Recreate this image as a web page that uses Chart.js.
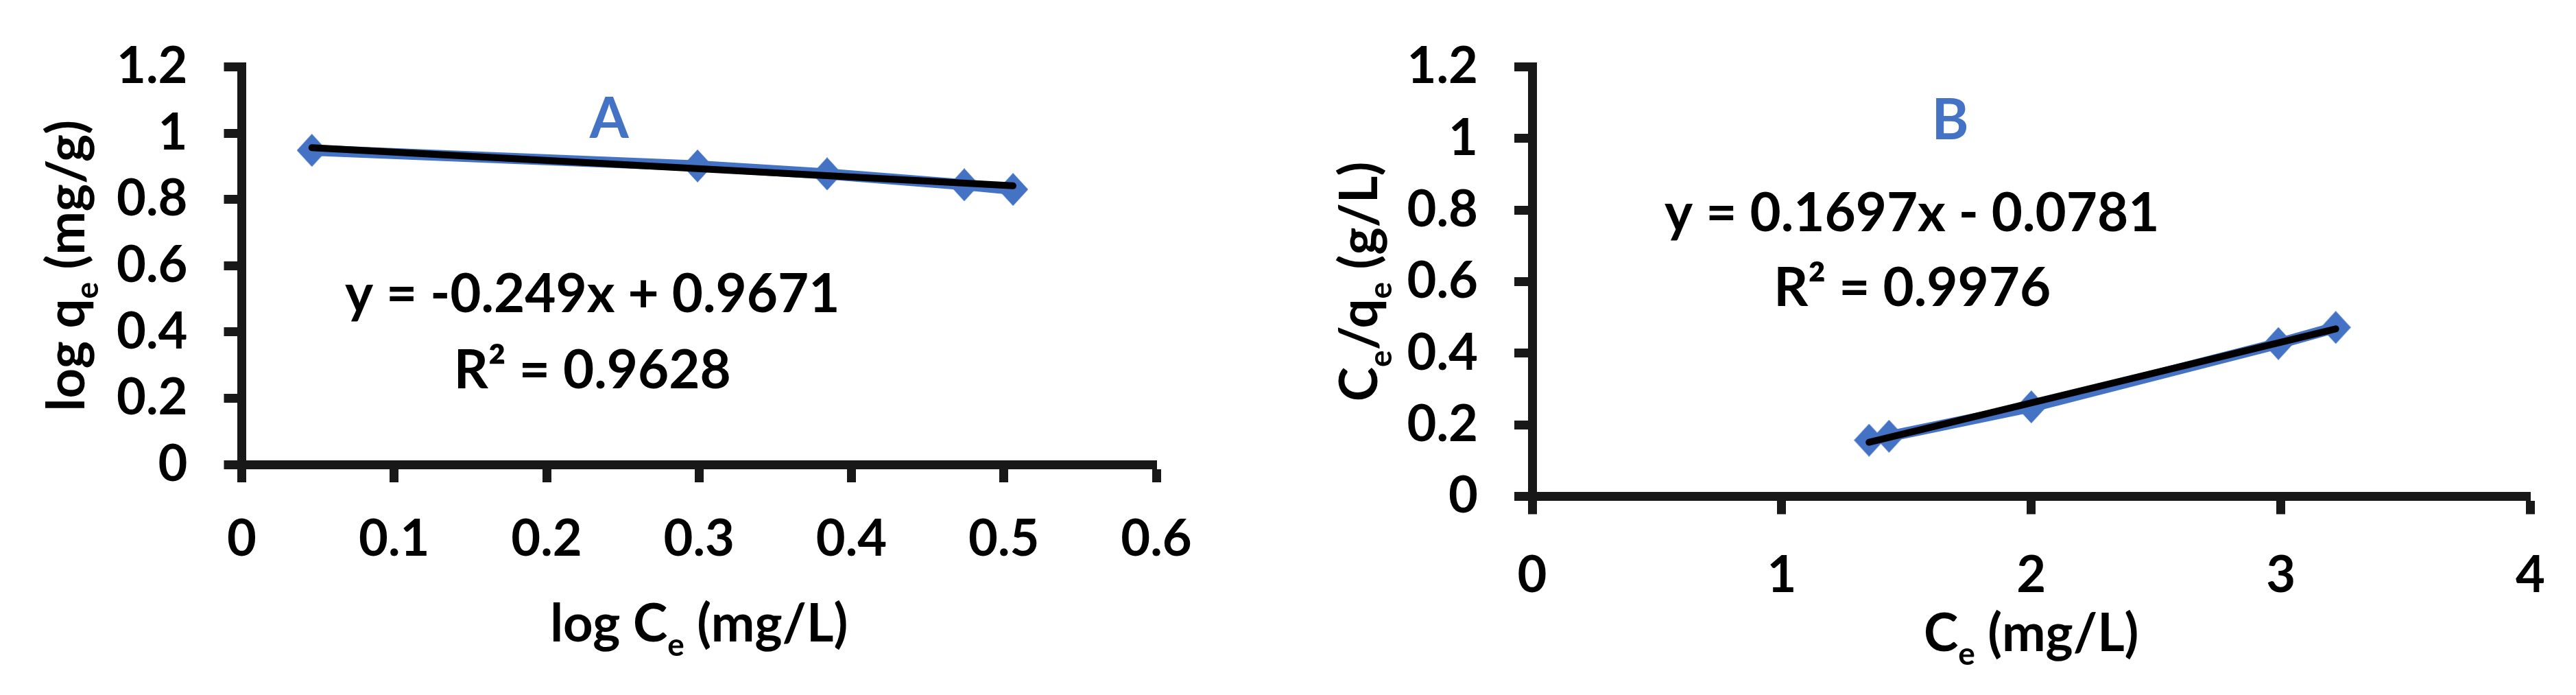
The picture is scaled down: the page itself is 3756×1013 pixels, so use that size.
<!DOCTYPE html>
<html>
<head>
<meta charset="utf-8">
<script src="https://cdn.jsdelivr.net/npm/chart.js@4.4.1/dist/chart.umd.min.js"></script>
<style>
  body { margin: 0; background: #fff; width: 3756px; height: 1013px; position: relative; overflow: hidden; }
  canvas { position: absolute; top: 0; }
  #chartA { left: 0; }
  #chartB { left: 1880px; }
</style>
</head>
<body>
<canvas id="chartA" width="1800" height="1013"></canvas>
<canvas id="chartB" width="1876" height="1013"></canvas>
<script>
// ---- values ----
// panel A : log Ce vs log qe
const logCe = [0.046, 0.299, 0.384, 0.474, 0.506];
const logQe = [0.948, 0.901, 0.877, 0.844, 0.830];
// linear trendline (y = -0.249x + 0.9671), first to last point
const trendAx = [0.046, 0.506];
const trendAy = [0.956, 0.841];
const xTicksA = [0, 0.1, 0.2, 0.3, 0.4, 0.5, 0.6];
const yTicksA = [0, 0.2, 0.4, 0.6, 0.8, 1, 1.2];

// panel B : Ce vs Ce/qe
const ce = [1.35, 1.43, 2.0, 2.99, 3.22];
const ceQe = [0.157, 0.168, 0.250, 0.427, 0.472];
// linear trendline (y = 0.1697x - 0.0781)
const trendBx = [1.35, 3.22];
const trendBy = [0.151, 0.468];
const xTicksB = [0, 1, 2, 3, 4];
const yTicksB = [0, 0.2, 0.4, 0.6, 0.8, 1, 1.2];

const FONT = 'Lato';
const AXIS = '#181818';
const BLUE = '#4472C4';

function pts(xs, ys) {
  return xs.map((x, i) => ({ x: x, y: ys[i] }));
}

// excel-like diamond marker, a bit taller than wide
function diamond(w, h) {
  const c = document.createElement('canvas');
  c.width = w; c.height = h;
  const g = c.getContext('2d');
  g.fillStyle = BLUE;
  g.beginPath();
  g.moveTo(w / 2, 0);
  g.lineTo(w, h / 2);
  g.lineTo(w / 2, h);
  g.lineTo(0, h / 2);
  g.closePath();
  g.fill();
  return c;
}
const marker = diamond(44, 48);

// text with subscripts, centred on (x, y) baseline; parts = [[text, isSub], ...]
function drawRich(ctx, parts, x, y, size, rotate) {
  const sub = Math.round(size * 0.6);
  ctx.save();
  ctx.translate(x, y);
  if (rotate) ctx.rotate(-Math.PI / 2);
  ctx.fillStyle = '#000';
  ctx.textAlign = 'left';
  ctx.textBaseline = 'alphabetic';
  let w = 0;
  parts.forEach(p => {
    ctx.font = 'bold ' + (p[1] ? sub : size) + 'px ' + FONT;
    w += ctx.measureText(p[0]).width;
  });
  let cx = -w / 2;
  parts.forEach(p => {
    ctx.font = 'bold ' + (p[1] ? sub : size) + 'px ' + FONT;
    ctx.fillText(p[0], cx, p[1] ? size * 0.27 : 0);
    cx += ctx.measureText(p[0]).width;
  });
  ctx.restore();
}

function makeChart(id, cfg) {
  const canvas = document.getElementById(id);

  const textPlugin = {
    id: 'text_' + id,
    afterDraw(chart) {
      const ctx = chart.ctx;
      const xs = chart.scales.x, ys = chart.scales.y, ca = chart.chartArea;
      ctx.save();
      ctx.textAlign = 'center';
      ctx.textBaseline = 'alphabetic';
      ctx.font = 'bold 82px ' + FONT;
      ctx.fillStyle = BLUE;
      ctx.fillText(cfg.letter, xs.getPixelForValue(cfg.letterAt[0]), ys.getPixelForValue(cfg.letterAt[1]));
      ctx.font = 'bold 78px ' + FONT;
      ctx.fillStyle = '#000';
      cfg.eq.forEach(l => {
        ctx.fillText(l.text, xs.getPixelForValue(l.at[0]), ys.getPixelForValue(l.at[1]));
      });
      ctx.restore();
      drawRich(ctx, cfg.xTitle, (ca.left + ca.right) / 2, ca.bottom + cfg.xTitleOff, 76, false);
      drawRich(ctx, cfg.yTitle, ca.left - cfg.yTitleOff, (ca.top + ca.bottom) / 2, 76, true);
    }
  };

  const tickFont = { family: FONT, weight: 'bold', size: 74 };

  return new Chart(canvas, {
    type: 'scatter',
    data: {
      datasets: [
        {
          label: 'trend',
          data: pts(cfg.tx, cfg.ty),
          showLine: true,
          borderColor: '#000',
          borderWidth: 10,
          borderCapStyle: 'round',
          pointRadius: 0,
          order: 0
        },
        {
          label: 'data',
          data: pts(cfg.x, cfg.y),
          showLine: true,
          borderColor: BLUE,
          borderWidth: 16,
          pointStyle: marker,
          pointRadius: 24,
          order: 1
        }
      ]
    },
    options: {
      responsive: false,
      devicePixelRatio: 1,
      animation: false,
      events: [],
      layout: { padding: { top: cfg.area.top, right: canvas.width - cfg.area.right, left: 0, bottom: 0 } },
      plugins: { legend: { display: false }, tooltip: { enabled: false } },
      scales: {
        x: {
          type: 'linear',
          min: cfg.xTicks[0],
          max: cfg.xTicks[cfg.xTicks.length - 1],
          afterBuildTicks: s => { s.ticks = cfg.xTicks.map(v => ({ value: v })); },
          afterFit: s => { s.height = canvas.height - cfg.area.bottom; },
          ticks: { font: tickFont, color: '#000', padding: cfg.xPad, maxRotation: 0, autoSkip: false, callback: v => String(v) },
          grid: { drawOnChartArea: false, drawTicks: true, tickLength: 26, tickWidth: 13, tickColor: AXIS },
          border: { display: true, width: 13, color: AXIS }
        },
        y: {
          type: 'linear',
          min: cfg.yTicks[0],
          max: cfg.yTicks[cfg.yTicks.length - 1],
          afterBuildTicks: s => { s.ticks = cfg.yTicks.map(v => ({ value: v })); },
          afterFit: s => { s.width = cfg.area.left; },
          ticks: { font: tickFont, color: '#000', padding: 53, autoSkip: false, callback: v => String(v) },
          grid: { drawOnChartArea: false, drawTicks: true, tickLength: 26, tickWidth: 13, tickColor: AXIS },
          border: { display: true, width: 13, color: AXIS }
        }
      }
    },
    plugins: [textPlugin]
  });
}

makeChart('chartA', {
  x: logCe, y: logQe, tx: trendAx, ty: trendAy,
  xTicks: xTicksA, yTicks: yTicksA,
  area: { left: 352.5, right: 1686, top: 83, bottom: 677 },
  xPad: 39,
  letter: 'A', letterAt: [0.241, 0.986],
  eq: [
    { text: 'y = -0.249x + 0.9671', at: [0.23, 0.4586] },
    { text: 'R\u00B2 = 0.9628', at: [0.23, 0.2303] }
  ],
  xTitle: [['log C', 0], ['e', 1], [' (mg/L)', 0]],
  yTitle: [['log q', 0], ['e', 1], [' (mg/g)', 0]],
  xTitleOff: 258, yTitleOff: 230
});

makeChart('chartB', {
  x: ce, y: ceQe, tx: trendBx, ty: trendBy,
  xTicks: xTicksB, yTicks: yTicksB,
  area: { left: 354, right: 1821, top: 84, bottom: 723.5 },
  xPad: 45,
  letter: 'B', letterAt: [1.675, 0.997],
  eq: [
    { text: 'y = 0.1697x - 0.0781', at: [1.522, 0.740] },
    { text: 'R\u00B2 = 0.9976', at: [1.523, 0.532] }
  ],
  xTitle: [['C', 0], ['e', 1], [' (mg/L)', 0]],
  yTitle: [['C', 0], ['e', 1], ['/q', 0], ['e', 1], [' (g/L)', 0]],
  xTitleOff: 225, yTitleOff: 226
});
</script>
</body>
</html>
